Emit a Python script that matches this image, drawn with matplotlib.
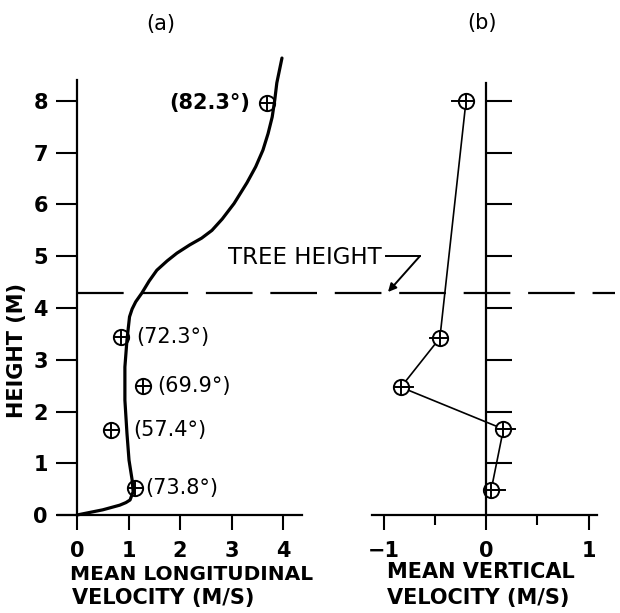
import matplotlib
matplotlib.use("Agg")
import matplotlib.pyplot as plt
import numpy as np

plt.rcParams['font.family'] = ['DejaVu Sans']

# ---- data ----
curve_u = [0, 0.25, 0.5, 0.83, 0.95, 1.03, 1.09, 1.07, 1.01, 0.97, 0.93, 0.93, 0.97, 1.02,
           1.07, 1.14, 1.26, 1.40, 1.55, 1.75, 1.94, 2.19, 2.42, 2.62, 2.82, 3.05, 3.30,
           3.47, 3.61, 3.71, 3.79, 3.84, 3.88, 3.98]
curve_h = [0, 0.05, 0.10, 0.19, 0.24, 0.29, 0.45, 0.68, 1.06, 1.58, 2.22, 2.86, 3.38, 3.83,
           3.98, 4.12, 4.29, 4.52, 4.73, 4.91, 5.06, 5.22, 5.35, 5.50, 5.72, 6.02, 6.42,
           6.73, 7.05, 7.37, 7.69, 8.02, 8.35, 8.83]

pts_u = [3.69, 0.85, 1.28, 0.66, 1.13]
pts_h = [7.97, 3.44, 2.49, 1.64, 0.52]
pts_lbl = ["(82.3°)", "(72.3°)", "(69.9°)", "(57.4°)", "(73.8°)"]

w_vals = [-0.195, -0.45, -0.83, 0.17, 0.05]
w_h = [8.0, 3.42, 2.47, 1.66, 0.48]
w_bar_end = [-0.33, -0.55, -0.71, 0.28, 0.19]

tree_height = 4.29

a_xticks = [0, 1, 2, 3, 4]
a_yticks = [0, 1, 2, 3, 4, 5, 6, 7, 8]
b_xticks = [-1, 0, 1]
b_xticklabels = ["−1", "0", "1"]
b_minor = [-0.5, 0.5]
b_yticks = [1, 2, 3, 4, 5, 6, 7, 8]

W, H = 620, 613
fig = plt.figure(figsize=(W / 100, H / 100), dpi=100)

def fx(px):
    return px / W

def fy(py):
    return 1 - py / H

# panel a : data 0 at px 77, 51.5 px/unit ; y 0 at 515, 51.75 px/unit
ax_a = fig.add_axes([fx(58), fy(515), (302 - 58) / W, (515 - 49) / H])
ax_a.set_xlim(-19 / 51.5, 225 / 51.5)
ax_a.set_ylim(0, 466 / 51.75)
# panel b : 0 at px 486, 102.5 px/unit
ax_b = fig.add_axes([fx(372), fy(515), (597 - 372) / W, (515 - 49) / H])
ax_b.set_xlim(-114 / 102.5, 111 / 102.5)
ax_b.set_ylim(0, 466 / 51.75)

for ax in (ax_a, ax_b):
    ax.patch.set_visible(False)
    for s in ("top", "right"):
        ax.spines[s].set_visible(False)
    ax.spines["left"].set_position(("data", 0))
    ax.spines["left"].set_linewidth(1.6)
    ax.spines["bottom"].set_linewidth(1.6)

ax_a.spines["left"].set_bounds(0, 8.4)
ax_b.spines["left"].set_bounds(0, 8.35)

# ticks a
ax_a.set_xticks(a_xticks)
ax_a.set_yticks(a_yticks)
ax_a.tick_params(axis="x", direction="out", length=11, width=1.5, pad=8, labelsize=15)
ax_a.tick_params(axis="y", direction="out", length=15, width=1.5, pad=6, labelsize=15)

# ticks b
ax_b.set_xticks(b_xticks)
ax_b.set_xticklabels(b_xticklabels)
ax_b.set_xticks(b_minor, minor=True)
ax_b.tick_params(axis="x", which="major", direction="out", length=11, width=1.5, pad=8, labelsize=15)
ax_b.tick_params(axis="x", which="minor", direction="out", length=7, width=1.5)
ax_b.set_yticks(b_yticks)
ax_b.tick_params(axis="y", direction="in", length=19, width=1.5, labelleft=False)

for ax in (ax_a, ax_b):
    for lab in ax.get_xticklabels() + ax.get_yticklabels():
        lab.set_fontweight("bold")

# curve a
ax_a.plot(curve_u, curve_h, color="black", lw=2.3, clip_on=False,
          solid_joinstyle="round", solid_capstyle="round")
ax_a.plot(pts_u, pts_h, "o", ms=11, mfc="none", mec="black", mew=1.4, clip_on=False)
ax_a.plot(pts_u, pts_h, "+", ms=11, mec="black", mew=1.4, clip_on=False)

offsets = [(-0.33, "right"), (0.31, "left"), (0.27, "left"), (0.43, "left"), (0.19, "left")]
for u, h, t, (dx, ha) in zip(pts_u, pts_h, pts_lbl, offsets):
    ax_a.text(u + dx, h, t, ha=ha, va="center", fontsize=15,
              fontweight="bold" if t == "(82.3°)" else "normal")

# panel b
ax_b.plot(w_vals, w_h, color="black", lw=1.2, clip_on=False)
ax_b.plot(w_vals, w_h, "o", ms=11, mfc="white", mec="black", mew=1.4, clip_on=False)
ax_b.plot(w_vals, w_h, "+", ms=11, mec="black", mew=1.4, clip_on=False)
for v, h, e in zip(w_vals, w_h, w_bar_end):
    ax_b.plot([v, e], [h, h], color="black", lw=1.4, clip_on=False)

# tree height dashed line (spans both panels)
ax_a.plot([0, 538 / 51.5], [tree_height, tree_height], color="black", lw=1.6,
          linestyle=(0, (21, 8)), clip_on=False)

# tree height label and leader
fig.text(fx(228), fy(257), "TREE HEIGHT", ha="left", va="center", fontsize=16.5)
fig.add_artist(plt.Line2D([fx(386), fx(420)], [fy(256), fy(256)],
                          transform=fig.transFigure, color="black", lw=1.4))
fig.add_artist(matplotlib.patches.FancyArrowPatch(
    (fx(420), fy(256)), (fx(388), fy(292)), transform=fig.transFigure,
    arrowstyle="-|>", mutation_scale=12, color="black", lw=1.4,
    shrinkA=0, shrinkB=0))

# panel labels
fig.text(fx(161), fy(24), "(a)", ha="center", va="center", fontsize=15)
fig.text(fx(482), fy(23), "(b)", ha="center", va="center", fontsize=15)

# axis labels
fig.text(fx(17), fy(350), "HEIGHT (M)", rotation=90, ha="center", va="center",
         fontsize=15, fontweight="bold")
fig.text(fx(70), fy(574), "MEAN LONGITUDINAL", ha="left", va="center", fontsize=14.5, fontweight="bold")
fig.text(fx(72), fy(598), "VELOCITY (M/S)", ha="left", va="center", fontsize=15, fontweight="bold")
fig.text(fx(387), fy(572), "MEAN VERTICAL", ha="left", va="center", fontsize=15, fontweight="bold")
fig.text(fx(387), fy(598), "VELOCITY (M/S)", ha="left", va="center", fontsize=15, fontweight="bold")

fig.savefig("out.png", dpi=100)
